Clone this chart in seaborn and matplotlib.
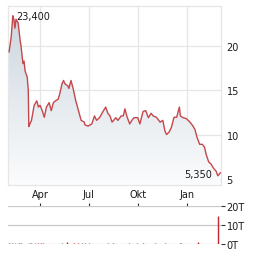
import numpy as np
import pandas as pd
import matplotlib
matplotlib.use("Agg")
import matplotlib.pyplot as plt
import matplotlib.dates as mdates
from matplotlib.colors import LinearSegmentedColormap
import seaborn as sns

# ---- data ----
price_dates = ["2023-02-02", "2023-02-06", "2023-02-09", "2023-02-11", "2023-02-13", "2023-02-15",
               "2023-02-19", "2023-02-23", "2023-02-24", "2023-02-28", "2023-03-02", "2023-03-04",
               "2023-03-06", "2023-03-08", "2023-03-10", "2023-03-11", "2023-03-13", "2023-03-16",
               "2023-03-21", "2023-03-26", "2023-03-29", "2023-04-01", "2023-04-05", "2023-04-09",
               "2023-04-13", "2023-04-18", "2023-04-22", "2023-04-26", "2023-04-30", "2023-05-05",
               "2023-05-08", "2023-05-12", "2023-05-15", "2023-05-18", "2023-05-23", "2023-05-25",
               "2023-05-29", "2023-06-02", "2023-06-07", "2023-06-12", "2023-06-17", "2023-06-23",
               "2023-06-24", "2023-06-30", "2023-07-07", "2023-07-12", "2023-07-16", "2023-07-22",
               "2023-07-27", "2023-08-02", "2023-08-06", "2023-08-10", "2023-08-14", "2023-08-21",
               "2023-08-25", "2023-08-31", "2023-09-04", "2023-09-07", "2023-09-11", "2023-09-16",
               "2023-09-20", "2023-09-24", "2023-10-01", "2023-10-05", "2023-10-11", "2023-10-16",
               "2023-10-21", "2023-10-26", "2023-10-30", "2023-11-05", "2023-11-12", "2023-11-17",
               "2023-11-21", "2023-11-24", "2023-11-29", "2023-12-03", "2023-12-08", "2023-12-13",
               "2023-12-18", "2023-12-20", "2023-12-25", "2023-12-31", "2024-01-07", "2024-01-12",
               "2024-01-16", "2024-01-20", "2024-01-25", "2024-01-30", "2024-02-03", "2024-02-06",
               "2024-02-11", "2024-02-15", "2024-02-20", "2024-02-25", "2024-02-28", "2024-03-04"]
price_values = [19.3, 21.0, 23.4, 23.0, 22.0, 23.0,
                22.6, 20.5, 20.2, 18.0, 18.3, 17.2,
                16.8, 16.5, 15.0, 10.9, 11.2, 11.6,
                13.3, 13.8, 13.1, 13.3, 12.7, 11.95,
                13.1, 13.6, 12.7, 13.6, 13.8, 14.0,
                14.6, 15.7, 16.1, 15.7, 15.5, 15.2,
                16.1, 15.2, 13.8, 12.7, 11.6, 11.4,
                11.1, 10.95, 11.2, 12.1, 11.6, 11.95,
                12.5, 13.1, 12.4, 12.1, 11.4, 11.9,
                11.6, 12.1, 12.1, 12.9, 12.0, 11.2,
                11.6, 11.9, 11.9, 11.2, 12.6, 12.7,
                11.9, 12.4, 12.1, 11.95, 11.4, 11.6,
                10.4, 10.0, 10.3, 10.8, 11.95, 11.95,
                13.1, 12.1, 11.9, 11.8, 11.4, 11.0,
                10.6, 9.7, 8.9, 8.9, 8.6, 7.8,
                6.9, 6.7, 6.2, 5.85, 5.35, 5.7]

vol_dates = ["2023-02-02", "2023-02-08", "2023-02-13", "2023-02-20", "2023-02-25", "2023-03-11",
             "2023-03-15", "2023-03-22", "2023-03-29", "2023-04-02", "2023-04-06", "2023-05-13",
             "2023-05-22", "2023-06-04", "2023-06-11", "2023-06-19", "2023-06-24", "2023-07-02",
             "2023-08-07", "2023-08-15", "2023-09-14", "2023-09-29", "2023-10-10", "2023-11-02",
             "2023-11-21", "2023-12-19", "2023-12-21", "2024-01-22", "2024-02-28"]
vol_values = [0.4, 0.4, 0.5, 0.6, 0.5, 0.4,
              0.5, 0.4, 0.5, 0.5, 0.4, 0.4,
              1.0, 0.5, 0.4, 0.5, 0.4, 0.4,
              0.4, 0.5, 0.4, 0.4, 0.4, 0.5,
              0.4, 0.4, 0.5, 1.2, 14.7]
vol_dirs = ["down", "up", "up", "down", "down", "up",
            "down", "up", "down", "down", "up", "up",
            "down", "down", "down", "up", "down", "up",
            "up", "down", "up", "up", "down", "up",
            "up", "up", "up", "down", "down"]

month_ticks = ["2023-04-01", "2023-07-01", "2023-10-01", "2024-01-01"]
month_labels = ["Apr", "Jul", "Okt", "Jan"]
price_ticks = [5, 10, 15, 20]
vol_ticks = [0, 10, 20]
vol_labels = ["0T", "10T", "20T"]
hi_label = "23,400"
lo_label = "5,350"

# ---- style ----
sns.set_style("white")
plt.rcParams["font.family"] = ["DejaVu Sans"]
LINE = "#c4474b"
GRID = "#e6e6e6"
TXT = "#1a1a1a"

df = pd.DataFrame({"date": pd.to_datetime(price_dates), "price": price_values})
vdf = pd.DataFrame({"date": pd.to_datetime(vol_dates), "vol": vol_values, "dir": vol_dirs})

fig = plt.figure(figsize=(2.64, 2.55), dpi=100)
ax = fig.add_axes([8 / 264, 1 - 186 / 255, 213 / 264, 179 / 255])
axv = fig.add_axes([8 / 264, 1 - 245 / 255, 213 / 264, 38 / 255])

xmin = pd.Timestamp("2023-01-31")
xmax = pd.Timestamp("2024-03-05")
ymin, ymax = 4.31, 24.5

# gradient fill under line
xn = mdates.date2num(df["date"])
poly_x = np.concatenate([[xn[0]], xn, [xn[-1]]])
poly_y = np.concatenate([[ymin], df["price"].values, [ymin]])
fill = ax.fill(poly_x, poly_y, facecolor="none", edgecolor="none")[0]
grad = np.linspace(1, 0, 256).reshape(-1, 1)
cmap = LinearSegmentedColormap.from_list("g", ["#fbfcfd", "#cdd7df"])
im = ax.imshow(grad, cmap=cmap, aspect="auto", vmin=0, vmax=1,
               extent=[mdates.date2num(xmin), mdates.date2num(xmax), ymin, max(price_values)],
               origin="upper", zorder=1)
im.set_clip_path(fill)

sns.lineplot(data=df, x="date", y="price", ax=ax, color=LINE, linewidth=1.0, zorder=3)

ax.set_xlim(xmin, xmax)
ax.set_ylim(ymin, ymax)
ax.set_xticks(pd.to_datetime(month_ticks))
ax.set_xticklabels(month_labels)
ax.set_yticks(price_ticks)
ax.yaxis.tick_right()
ax.grid(True, color=GRID, linewidth=0.9, zorder=0)
ax.set_axisbelow(True)
ax.tick_params(axis="both", length=0, labelsize=7, colors=TXT, pad=3)
ax.tick_params(axis="y", pad=4)
ax.set_xlabel("")
ax.set_ylabel("")
for s in ax.spines.values():
    s.set_color(GRID)
    s.set_linewidth(0.9)

ax.text(pd.Timestamp("2023-02-15"), 23.35, hi_label, fontsize=7, color=TXT,
        ha="left", va="center", zorder=5)
ax.text(pd.Timestamp("2024-02-18"), 5.5, lo_label, fontsize=7, color=TXT,
        ha="right", va="center", zorder=5)

# volume
colors = ["#c0282d" if d == "down" else "#2e9a2e" for d in vdf["dir"]]
axv.vlines(vdf["date"], 0, vdf["vol"], colors=colors, linewidth=1.0, zorder=3)
axv.set_xlim(xmin, xmax)
axv.set_ylim(0, 20)
axv.set_yticks(vol_ticks)
axv.set_yticklabels(vol_labels)
axv.yaxis.tick_right()
axv.grid(True, axis="y", color="#c8c8c8", linewidth=0.9, zorder=0)
axv.set_xticks(pd.to_datetime(month_ticks))
axv.xaxis.tick_top()
axv.tick_params(axis="x", length=2, width=0.8, color="#333333", labeltop=False,
                direction="out")
axv.tick_params(axis="y", length=3, width=0.8, color="#333333", labelsize=7,
                labelcolor=TXT, pad=1)
for s in axv.spines.values():
    s.set_visible(False)

fig.savefig("out.png", dpi=100)
